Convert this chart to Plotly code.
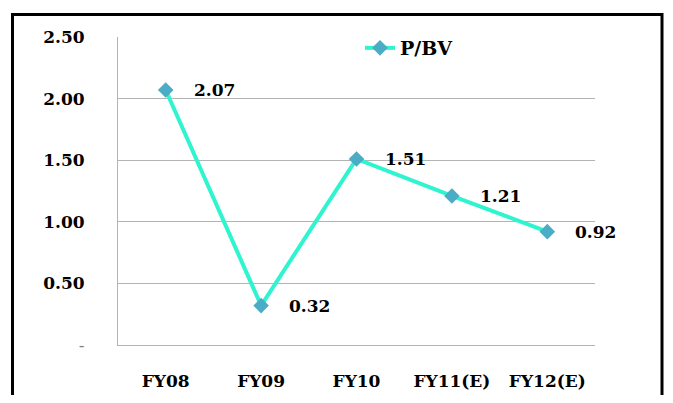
import plotly.graph_objects as go

categories = ["FY08", "FY09", "FY10", "FY11(E)", "FY12(E)"]
pbv = [2.07, 0.32, 1.51, 1.21, 0.92]
y_tickvals = [0, 0.5, 1.0, 1.5, 2.0, 2.5]
y_ticktext = ['<span style="color:#7f7f7f;font-weight:normal">-</span>', "0.50", "1.00", "1.50", "2.00", "2.50"]

FONT = "DejaVu Serif"
OFF = 8  # page body margin
W, H = 673 - OFF, 403 - 2 * OFF
L, T = 118 - OFF, 37 - OFF
pw, ph = 477, 308
R, B = W - L - pw, H - T - ph

fig = go.Figure()
fig.add_trace(go.Scatter(
    x=categories, y=pbv, name="P/BV", mode="lines+markers",
    line=dict(color="#2EF5CF", width=4),
    marker=dict(symbol="diamond", size=12, color="#4BACC6"),
))

for c, v in zip(categories, pbv):
    fig.add_annotation(x=c, y=v, text=f"{v:.2f}", showarrow=False,
                       xanchor="left", yanchor="middle", xshift=26,
                       font=dict(family=FONT, size=17, color="black", weight="bold"))

def px(x):
    return (x - OFF - L) / pw

def py(y):
    return 1 - (y - OFF - T) / ph

fig.add_shape(type="rect", xref="paper", yref="paper",
              x0=px(12.5), x1=px(662), y0=py(420), y1=py(14.5),
              line=dict(color="black", width=3), fillcolor="rgba(0,0,0,0)")

fig.update_layout(
    width=W, height=H, margin=dict(l=L, r=R, t=T, b=B, autoexpand=False),
    paper_bgcolor="white", plot_bgcolor="white",
    font=dict(family=FONT, size=17, color="black", weight="bold"),
    showlegend=True,
    legend=dict(x=px(360), y=py(48), xanchor="left", yanchor="middle",
                bgcolor="rgba(0,0,0,0)",
                font=dict(family=FONT, size=19, weight="bold")),
)
fig.update_xaxes(range=[-0.5, 4.5], showgrid=False, showline=True,
                 linecolor="#b3b3b3", linewidth=1, automargin=False,
                 ticks="", tickfont=dict(family=FONT, size=17, weight="bold"),
                 ticklabelstandoff=21)
fig.update_yaxes(range=[0, 2.5], tickvals=y_tickvals, ticktext=y_ticktext,
                 showgrid=True, gridcolor="#b3b3b3", gridwidth=1,
                 showline=True, linecolor="#b3b3b3", linewidth=1, automargin=False,
                 zeroline=False, ticks="", tickfont=dict(family=FONT, size=17, weight="bold"),
                 ticklabelstandoff=29)

fig.write_html("out.html")
